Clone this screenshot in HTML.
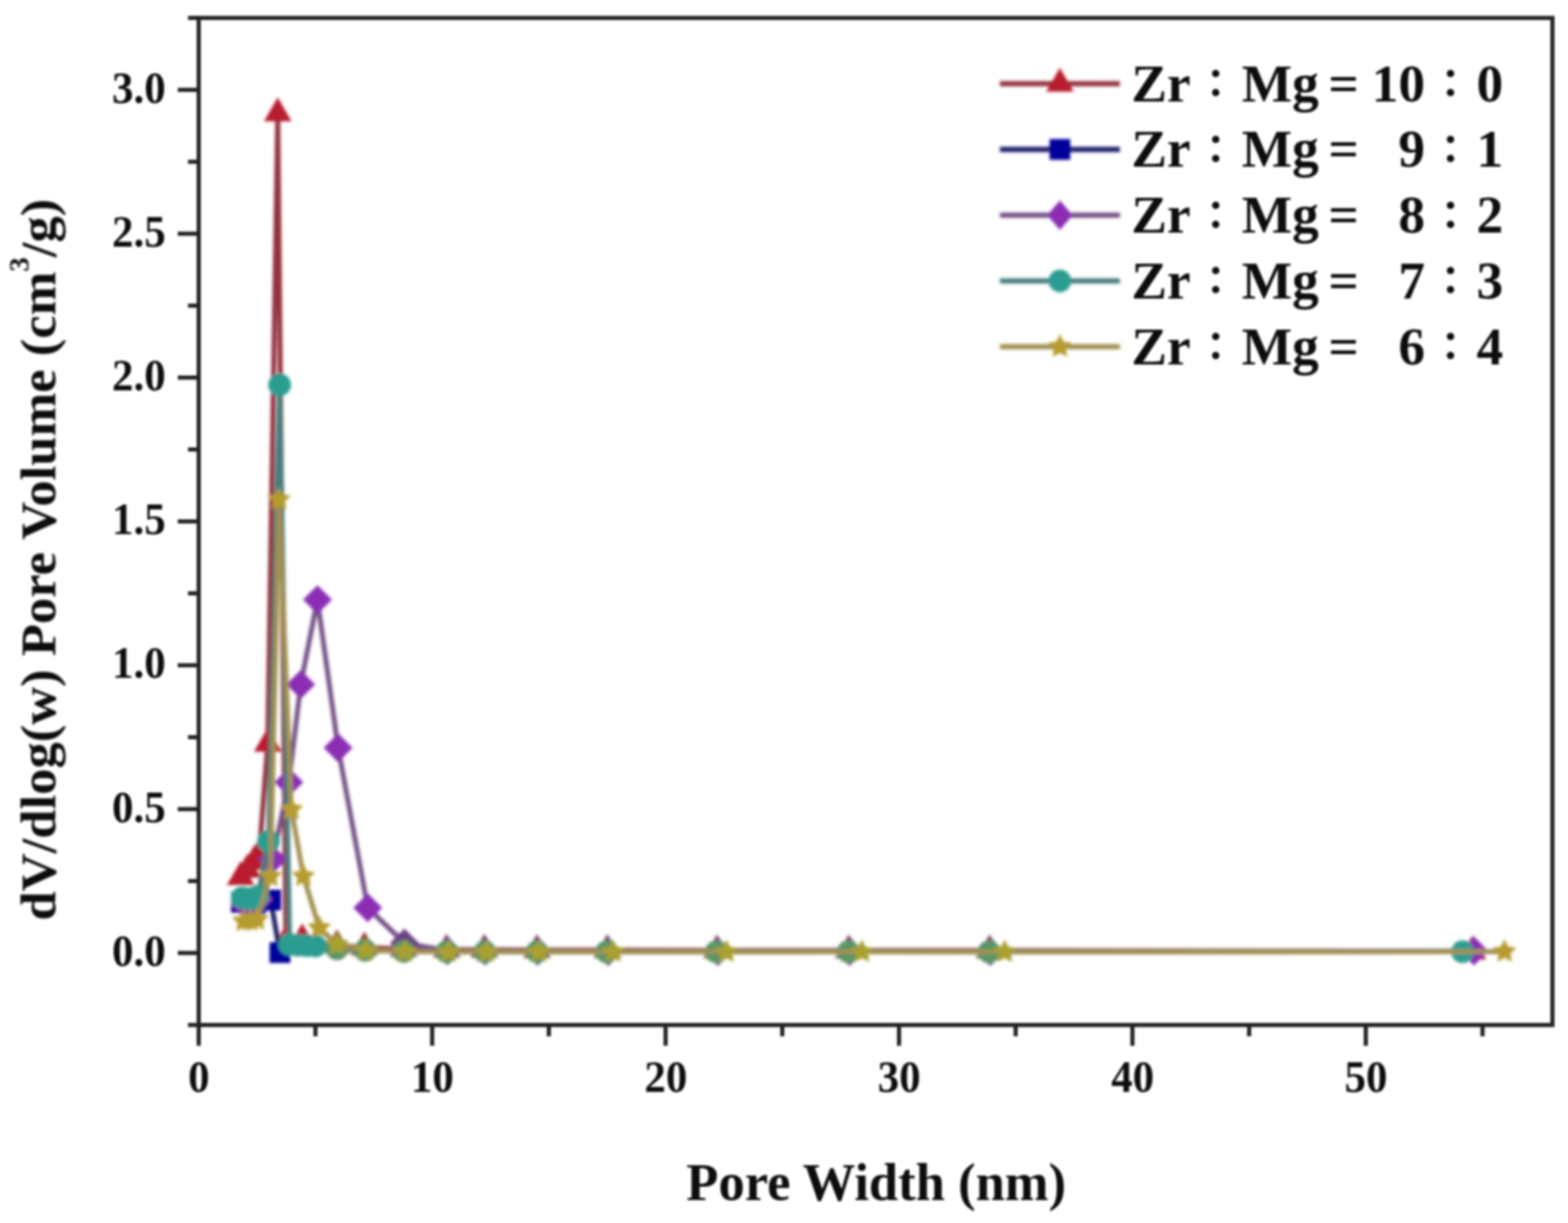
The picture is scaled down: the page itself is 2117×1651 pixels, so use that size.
<!DOCTYPE html>
<html lang="en">
<head>
<meta charset="utf-8">
<title>Pore size distribution</title>
<style>
html,body{margin:0;padding:0;background:#fff;}
body{width:2117px;height:1651px;overflow:hidden;}
svg{display:block;}
</style>
</head>
<body>
<svg width="2117" height="1651" viewBox="0 0 2117 1651" role="img" aria-label="Pore size distribution chart">
<rect x="0" y="0" width="2117" height="1651" fill="#ffffff"/>
<defs><filter id="soft" x="0" y="0" width="2117" height="1651" filterUnits="userSpaceOnUse"><feGaussianBlur stdDeviation="1.5"/></filter><filter id="soft2" x="0" y="0" width="2117" height="1651" filterUnits="userSpaceOnUse"><feGaussianBlur stdDeviation="2.2"/></filter></defs>
<g filter="url(#soft)">
<g stroke="#242424" stroke-width="5.6" fill="none" stroke-linecap="butt">
<rect x="268.3" y="24.2" width="1827.7" height="1359.5"/>
<line x1="253.8" y1="1383.7" x2="268.3" y2="1383.7"/>
<line x1="240.0" y1="1286.5" x2="268.3" y2="1286.5"/>
<line x1="253.8" y1="1189.4" x2="268.3" y2="1189.4"/>
<line x1="240.0" y1="1092.3" x2="268.3" y2="1092.3"/>
<line x1="253.8" y1="995.2" x2="268.3" y2="995.2"/>
<line x1="240.0" y1="898.1" x2="268.3" y2="898.1"/>
<line x1="253.8" y1="801.0" x2="268.3" y2="801.0"/>
<line x1="240.0" y1="703.9" x2="268.3" y2="703.9"/>
<line x1="253.8" y1="606.8" x2="268.3" y2="606.8"/>
<line x1="240.0" y1="509.7" x2="268.3" y2="509.7"/>
<line x1="253.8" y1="412.6" x2="268.3" y2="412.6"/>
<line x1="240.0" y1="315.5" x2="268.3" y2="315.5"/>
<line x1="253.8" y1="218.4" x2="268.3" y2="218.4"/>
<line x1="240.0" y1="121.3" x2="268.3" y2="121.3"/>
<line x1="253.8" y1="24.2" x2="268.3" y2="24.2"/>
<line x1="268.3" y1="1383.7" x2="268.3" y2="1411.7"/>
<line x1="425.9" y1="1383.7" x2="425.9" y2="1399.0"/>
<line x1="583.5" y1="1383.7" x2="583.5" y2="1411.7"/>
<line x1="741.0" y1="1383.7" x2="741.0" y2="1399.0"/>
<line x1="898.6" y1="1383.7" x2="898.6" y2="1411.7"/>
<line x1="1056.2" y1="1383.7" x2="1056.2" y2="1399.0"/>
<line x1="1213.8" y1="1383.7" x2="1213.8" y2="1411.7"/>
<line x1="1371.3" y1="1383.7" x2="1371.3" y2="1399.0"/>
<line x1="1528.9" y1="1383.7" x2="1528.9" y2="1411.7"/>
<line x1="1686.5" y1="1383.7" x2="1686.5" y2="1399.0"/>
<line x1="1844.0" y1="1383.7" x2="1844.0" y2="1411.7"/>
<line x1="2001.6" y1="1383.7" x2="2001.6" y2="1399.0"/>
</g>
<g font-family="'Liberation Serif', 'Noto Serif CJK SC', serif" font-weight="bold" font-size="58" fill="#0e0e0e">
<text transform="translate(223.7,1303.7) scale(1,1.075)" text-anchor="end">0.0</text>
<text transform="translate(223.7,1109.5) scale(1,1.075)" text-anchor="end">0.5</text>
<text transform="translate(223.7,915.3) scale(1,1.075)" text-anchor="end">1.0</text>
<text transform="translate(223.7,721.1) scale(1,1.075)" text-anchor="end">1.5</text>
<text transform="translate(223.7,526.9) scale(1,1.075)" text-anchor="end">2.0</text>
<text transform="translate(223.7,332.7) scale(1,1.075)" text-anchor="end">2.5</text>
<text transform="translate(223.7,138.5) scale(1,1.075)" text-anchor="end">3.0</text>
<text transform="translate(268.6,1474.2) scale(1,1.075)" text-anchor="middle">0</text>
<text transform="translate(583.8,1474.2) scale(1,1.075)" text-anchor="middle">10</text>
<text transform="translate(898.9,1474.2) scale(1,1.075)" text-anchor="middle">20</text>
<text transform="translate(1214.0,1474.2) scale(1,1.075)" text-anchor="middle">30</text>
<text transform="translate(1529.2,1474.2) scale(1,1.075)" text-anchor="middle">40</text>
<text transform="translate(1844.3,1474.2) scale(1,1.075)" text-anchor="middle">50</text>
</g>
<text font-family="'Liberation Serif', 'Noto Serif CJK SC', serif" font-weight="bold" font-size="71" fill="#0e0e0e" x="1183" y="1619.5" text-anchor="middle">Pore Width (nm)</text>
<text font-family="'Liberation Serif', 'Noto Serif CJK SC', serif" font-weight="bold" font-size="71" fill="#0e0e0e" transform="translate(75,755.5) rotate(-90) scale(1,0.95)" text-anchor="middle">dV/dlog(w) Pore Volume (cm<tspan font-size="39" dy="-38">3</tspan><tspan dy="38">/g)</tspan></text>
</g>
<g filter="url(#soft2)">
<path d="M325.0 1184.0 L334.0 1174.0 L343.0 1163.0 L350.0 1153.0 L361.5 1004.0 L375.0 153.0 L386.0 1270.0 L408.0 1268.0 L455.0 1276.0 L492.0 1279.0 L545.0 1281.0 L603.0 1282.0 L654.0 1282.0 L725.0 1282.5 L820.0 1282.5 L968.0 1283.0 L1146.0 1283.0 L1336.0 1283.0 L1988.0 1284.5" fill="none" stroke="#93303d" stroke-width="6.6" stroke-linejoin="round"/>
<g fill="#b81e2e"><path d="M325.0 1162.5 L343.6 1194.8 L306.4 1194.8 Z"/><path d="M334.0 1152.5 L352.6 1184.8 L315.4 1184.8 Z"/><path d="M343.0 1141.5 L361.6 1173.8 L324.4 1173.8 Z"/><path d="M350.0 1131.5 L368.6 1163.8 L331.4 1163.8 Z"/><path d="M361.5 982.5 L380.1 1014.8 L342.9 1014.8 Z"/><path d="M375.0 131.5 L393.6 163.8 L356.4 163.8 Z"/><path d="M386.0 1248.5 L404.6 1280.8 L367.4 1280.8 Z"/><path d="M408.0 1246.5 L426.6 1278.8 L389.4 1278.8 Z"/><path d="M1988.0 1263.0 L2006.6 1295.2 L1969.4 1295.2 Z"/></g>
<g fill="#8e4034"><path d="M455.0 1254.5 L473.6 1286.8 L436.4 1286.8 Z"/><path d="M492.0 1257.5 L510.6 1289.8 L473.4 1289.8 Z"/><path d="M545.0 1259.5 L563.6 1291.8 L526.4 1291.8 Z"/><path d="M603.0 1260.5 L621.6 1292.8 L584.4 1292.8 Z"/><path d="M654.0 1260.5 L672.6 1292.8 L635.4 1292.8 Z"/><path d="M725.0 1261.0 L743.6 1293.2 L706.4 1293.2 Z"/><path d="M820.0 1261.0 L838.6 1293.2 L801.4 1293.2 Z"/><path d="M968.0 1261.5 L986.6 1293.8 L949.4 1293.8 Z"/><path d="M1146.0 1261.5 L1164.6 1293.8 L1127.4 1293.8 Z"/><path d="M1336.0 1261.5 L1354.6 1293.8 L1317.4 1293.8 Z"/></g>
<path d="M326.0 1218.0 L335.0 1219.0 L345.0 1220.0 L365.5 1215.0 L378.0 1286.0" fill="none" stroke="#1f1f68" stroke-width="6.6" stroke-linejoin="round"/>
<g fill="#03039a"><rect x="312.0" y="1204.0" width="28.0" height="28.0"/><rect x="321.0" y="1205.0" width="28.0" height="28.0"/><rect x="331.0" y="1206.0" width="28.0" height="28.0"/><rect x="351.5" y="1201.0" width="28.0" height="28.0"/><rect x="364.0" y="1272.0" width="28.0" height="28.0"/></g>
<path d="M331.0 1221.0 L340.0 1219.0 L349.0 1214.0 L368.0 1160.0 L390.0 1056.0 L406.0 924.0 L428.6 809.5 L456.5 1009.4 L496.5 1225.5 L546.0 1273.0 L604.0 1283.5 L655.0 1284.0 L726.0 1284.3 L821.0 1284.5 L969.0 1284.5 L1147.0 1284.5 L1337.0 1284.5 L1990.0 1283.8" fill="none" stroke="#745386" stroke-width="6.6" stroke-linejoin="round"/>
<g fill="#8b2fb3"><path d="M331.0 1201.5 L350.5 1221.0 L331.0 1240.5 L311.5 1221.0 Z"/><path d="M340.0 1199.5 L359.5 1219.0 L340.0 1238.5 L320.5 1219.0 Z"/><path d="M349.0 1194.5 L368.5 1214.0 L349.0 1233.5 L329.5 1214.0 Z"/><path d="M368.0 1140.5 L387.5 1160.0 L368.0 1179.5 L348.5 1160.0 Z"/><path d="M390.0 1036.5 L409.5 1056.0 L390.0 1075.5 L370.5 1056.0 Z"/><path d="M406.0 904.5 L425.5 924.0 L406.0 943.5 L386.5 924.0 Z"/><path d="M428.6 790.0 L448.1 809.5 L428.6 829.0 L409.1 809.5 Z"/><path d="M456.5 989.9 L476.0 1009.4 L456.5 1028.9 L437.0 1009.4 Z"/><path d="M496.5 1206.0 L516.0 1225.5 L496.5 1245.0 L477.0 1225.5 Z"/><path d="M1990.0 1264.3 L2009.5 1283.8 L1990.0 1303.3 L1970.5 1283.8 Z"/></g>
<g fill="#6b4283"><path d="M546.0 1253.5 L565.5 1273.0 L546.0 1292.5 L526.5 1273.0 Z"/><path d="M604.0 1264.0 L623.5 1283.5 L604.0 1303.0 L584.5 1283.5 Z"/><path d="M655.0 1264.5 L674.5 1284.0 L655.0 1303.5 L635.5 1284.0 Z"/><path d="M726.0 1264.8 L745.5 1284.3 L726.0 1303.8 L706.5 1284.3 Z"/><path d="M821.0 1265.0 L840.5 1284.5 L821.0 1304.0 L801.5 1284.5 Z"/><path d="M969.0 1265.0 L988.5 1284.5 L969.0 1304.0 L949.5 1284.5 Z"/><path d="M1147.0 1265.0 L1166.5 1284.5 L1147.0 1304.0 L1127.5 1284.5 Z"/><path d="M1337.0 1265.0 L1356.5 1284.5 L1337.0 1304.0 L1317.5 1284.5 Z"/></g>
<path d="M327.0 1212.0 L334.0 1213.0 L341.0 1213.0 L348.0 1210.0 L362.5 1136.0 L377.5 519.5 L391.0 1275.0 L402.0 1276.0 L414.0 1276.5 L426.0 1277.0 L455.0 1281.0 L493.0 1283.0 L545.0 1284.5 L603.0 1285.0 L654.5 1285.0 L725.0 1285.0 L819.0 1285.0 L967.0 1285.0 L1145.3 1284.8 L1335.2 1285.0 L1974.5 1284.8" fill="none" stroke="#477d7d" stroke-width="6.6" stroke-linejoin="round"/>
<g fill="#2a9d90"><circle cx="327.0" cy="1212.0" r="15.3"/><circle cx="334.0" cy="1213.0" r="15.3"/><circle cx="341.0" cy="1213.0" r="15.3"/><circle cx="348.0" cy="1210.0" r="15.3"/><circle cx="362.5" cy="1136.0" r="15.3"/><circle cx="377.5" cy="519.5" r="15.3"/><circle cx="391.0" cy="1275.0" r="15.3"/><circle cx="402.0" cy="1276.0" r="15.3"/><circle cx="414.0" cy="1276.5" r="15.3"/><circle cx="426.0" cy="1277.0" r="15.3"/><circle cx="1974.5" cy="1284.8" r="15.3"/></g>
<g fill="#5c9566"><circle cx="455.0" cy="1281.0" r="15.3"/><circle cx="493.0" cy="1283.0" r="15.3"/><circle cx="545.0" cy="1284.5" r="15.3"/><circle cx="603.0" cy="1285.0" r="15.3"/><circle cx="654.5" cy="1285.0" r="15.3"/><circle cx="725.0" cy="1285.0" r="15.3"/><circle cx="819.0" cy="1285.0" r="15.3"/><circle cx="967.0" cy="1285.0" r="15.3"/><circle cx="1145.3" cy="1284.8" r="15.3"/><circle cx="1335.2" cy="1285.0" r="15.3"/></g>
<path d="M329.0 1243.5 L338.0 1243.0 L347.0 1241.5 L365.0 1183.0 L376.6 674.3 L393.4 1092.8 L409.6 1182.7 L431.0 1252.5 L455.0 1275.0 L494.0 1283.0 L547.0 1284.5 L605.5 1285.0 L657.0 1285.0 L727.5 1285.0 L828.0 1285.0 L980.7 1285.0 L1163.8 1285.0 L1356.5 1285.0 L2031.3 1284.6" fill="none" stroke="#a19051" stroke-width="6.6" stroke-linejoin="round"/>
<g fill="#b69b2d"><polygon points="329.0,1226.7 333.9,1236.7 345.0,1238.3 337.0,1246.1 338.9,1257.1 329.0,1251.9 319.1,1257.1 321.0,1246.1 313.0,1238.3 324.1,1236.7"/><polygon points="338.0,1226.2 342.9,1236.2 354.0,1237.8 346.0,1245.6 347.9,1256.6 338.0,1251.4 328.1,1256.6 330.0,1245.6 322.0,1237.8 333.1,1236.2"/><polygon points="347.0,1224.7 351.9,1234.7 363.0,1236.3 355.0,1244.1 356.9,1255.1 347.0,1249.9 337.1,1255.1 339.0,1244.1 331.0,1236.3 342.1,1234.7"/><polygon points="365.0,1166.2 369.9,1176.2 381.0,1177.8 373.0,1185.6 374.9,1196.6 365.0,1191.4 355.1,1196.6 357.0,1185.6 349.0,1177.8 360.1,1176.2"/><polygon points="376.6,657.5 381.5,667.5 392.6,669.1 384.6,676.9 386.5,687.9 376.6,682.7 366.7,687.9 368.6,676.9 360.6,669.1 371.7,667.5"/><polygon points="393.4,1076.0 398.3,1086.0 409.4,1087.6 401.4,1095.4 403.3,1106.4 393.4,1101.2 383.5,1106.4 385.4,1095.4 377.4,1087.6 388.5,1086.0"/><polygon points="409.6,1165.9 414.5,1175.9 425.6,1177.5 417.6,1185.3 419.5,1196.3 409.6,1191.1 399.7,1196.3 401.6,1185.3 393.6,1177.5 404.7,1175.9"/><polygon points="431.0,1235.7 435.9,1245.7 447.0,1247.3 439.0,1255.1 440.9,1266.1 431.0,1260.9 421.1,1266.1 423.0,1255.1 415.0,1247.3 426.1,1245.7"/><polygon points="2031.3,1267.8 2036.2,1277.8 2047.3,1279.4 2039.3,1287.2 2041.2,1298.2 2031.3,1293.0 2021.4,1298.2 2023.3,1287.2 2015.3,1279.4 2026.4,1277.8"/></g>
<g fill="#a9a02f"><polygon points="455.0,1258.2 459.9,1268.2 471.0,1269.8 463.0,1277.6 464.9,1288.6 455.0,1283.4 445.1,1288.6 447.0,1277.6 439.0,1269.8 450.1,1268.2"/><polygon points="494.0,1266.2 498.9,1276.2 510.0,1277.8 502.0,1285.6 503.9,1296.6 494.0,1291.4 484.1,1296.6 486.0,1285.6 478.0,1277.8 489.1,1276.2"/><polygon points="547.0,1267.7 551.9,1277.7 563.0,1279.3 555.0,1287.1 556.9,1298.1 547.0,1292.9 537.1,1298.1 539.0,1287.1 531.0,1279.3 542.1,1277.7"/><polygon points="605.5,1268.2 610.4,1278.2 621.5,1279.8 613.5,1287.6 615.4,1298.6 605.5,1293.4 595.6,1298.6 597.5,1287.6 589.5,1279.8 600.6,1278.2"/><polygon points="657.0,1268.2 661.9,1278.2 673.0,1279.8 665.0,1287.6 666.9,1298.6 657.0,1293.4 647.1,1298.6 649.0,1287.6 641.0,1279.8 652.1,1278.2"/><polygon points="727.5,1268.2 732.4,1278.2 743.5,1279.8 735.5,1287.6 737.4,1298.6 727.5,1293.4 717.6,1298.6 719.5,1287.6 711.5,1279.8 722.6,1278.2"/><polygon points="828.0,1268.2 832.9,1278.2 844.0,1279.8 836.0,1287.6 837.9,1298.6 828.0,1293.4 818.1,1298.6 820.0,1287.6 812.0,1279.8 823.1,1278.2"/><polygon points="980.7,1268.2 985.6,1278.2 996.7,1279.8 988.7,1287.6 990.6,1298.6 980.7,1293.4 970.8,1298.6 972.7,1287.6 964.7,1279.8 975.8,1278.2"/><polygon points="1163.8,1268.2 1168.7,1278.2 1179.8,1279.8 1171.8,1287.6 1173.7,1298.6 1163.8,1293.4 1153.9,1298.6 1155.8,1287.6 1147.8,1279.8 1158.9,1278.2"/><polygon points="1356.5,1268.2 1361.4,1278.2 1372.5,1279.8 1364.5,1287.6 1366.4,1298.6 1356.5,1293.4 1346.6,1298.6 1348.5,1287.6 1340.5,1279.8 1351.6,1278.2"/></g>
<line x1="1350" y1="113.0" x2="1512" y2="113.0" stroke="#93303d" stroke-width="7"/>
<g fill="#b81e2e"><path d="M1431.0 91.5 L1449.6 123.8 L1412.4 123.8 Z"/></g>
<line x1="1350" y1="201.7" x2="1512" y2="201.7" stroke="#1f1f68" stroke-width="7"/>
<g fill="#03039a"><rect x="1417.0" y="187.7" width="28.0" height="28.0"/></g>
<line x1="1350" y1="290.5" x2="1512" y2="290.5" stroke="#745386" stroke-width="7"/>
<g fill="#8b2fb3"><path d="M1431 270.5 L1448 290.5 L1431 310.5 L1414 290.5 Z"/></g>
<line x1="1350" y1="379.3" x2="1512" y2="379.3" stroke="#477d7d" stroke-width="7"/>
<g fill="#2a9d90"><circle cx="1431.0" cy="379.3" r="15.3"/></g>
<line x1="1350" y1="468.0" x2="1512" y2="468.0" stroke="#a19051" stroke-width="7"/>
<g fill="#b69b2d"><polygon points="1431.0,451.2 1435.9,461.2 1447.0,462.8 1439.0,470.6 1440.9,481.6 1431.0,476.4 1421.1,481.6 1423.0,470.6 1415.0,462.8 1426.1,461.2"/></g>
</g>
<g filter="url(#soft)">
<text font-family="'Liberation Serif', 'Noto Serif CJK SC', serif" font-weight="bold" font-size="72" fill="#0e0e0e" y="136.5"><tspan x="1527.5">Zr</tspan><tspan x="1625.3" dy="-5.5" font-size="64" font-weight="600">：</tspan><tspan x="1676.5" dy="5.5">Mg </tspan><tspan x="1793.5">= </tspan><tspan x="1924" text-anchor="end">10</tspan><tspan x="1942.3" dy="-5.5" font-size="64" font-weight="600">：</tspan><tspan x="1993.5" dy="5.5">0</tspan></text>
<text font-family="'Liberation Serif', 'Noto Serif CJK SC', serif" font-weight="bold" font-size="72" fill="#0e0e0e" y="225.2"><tspan x="1527.5">Zr</tspan><tspan x="1625.3" dy="-5.5" font-size="64" font-weight="600">：</tspan><tspan x="1676.5" dy="5.5">Mg </tspan><tspan x="1793.5">= </tspan><tspan x="1924" text-anchor="end">9</tspan><tspan x="1942.3" dy="-5.5" font-size="64" font-weight="600">：</tspan><tspan x="1993.5" dy="5.5">1</tspan></text>
<text font-family="'Liberation Serif', 'Noto Serif CJK SC', serif" font-weight="bold" font-size="72" fill="#0e0e0e" y="314.0"><tspan x="1527.5">Zr</tspan><tspan x="1625.3" dy="-5.5" font-size="64" font-weight="600">：</tspan><tspan x="1676.5" dy="5.5">Mg </tspan><tspan x="1793.5">= </tspan><tspan x="1924" text-anchor="end">8</tspan><tspan x="1942.3" dy="-5.5" font-size="64" font-weight="600">：</tspan><tspan x="1993.5" dy="5.5">2</tspan></text>
<text font-family="'Liberation Serif', 'Noto Serif CJK SC', serif" font-weight="bold" font-size="72" fill="#0e0e0e" y="402.8"><tspan x="1527.5">Zr</tspan><tspan x="1625.3" dy="-5.5" font-size="64" font-weight="600">：</tspan><tspan x="1676.5" dy="5.5">Mg </tspan><tspan x="1793.5">= </tspan><tspan x="1924" text-anchor="end">7</tspan><tspan x="1942.3" dy="-5.5" font-size="64" font-weight="600">：</tspan><tspan x="1993.5" dy="5.5">3</tspan></text>
<text font-family="'Liberation Serif', 'Noto Serif CJK SC', serif" font-weight="bold" font-size="72" fill="#0e0e0e" y="491.5"><tspan x="1527.5">Zr</tspan><tspan x="1625.3" dy="-5.5" font-size="64" font-weight="600">：</tspan><tspan x="1676.5" dy="5.5">Mg </tspan><tspan x="1793.5">= </tspan><tspan x="1924" text-anchor="end">6</tspan><tspan x="1942.3" dy="-5.5" font-size="64" font-weight="600">：</tspan><tspan x="1993.5" dy="5.5">4</tspan></text>
</g>
</svg>
</body>
</html>
